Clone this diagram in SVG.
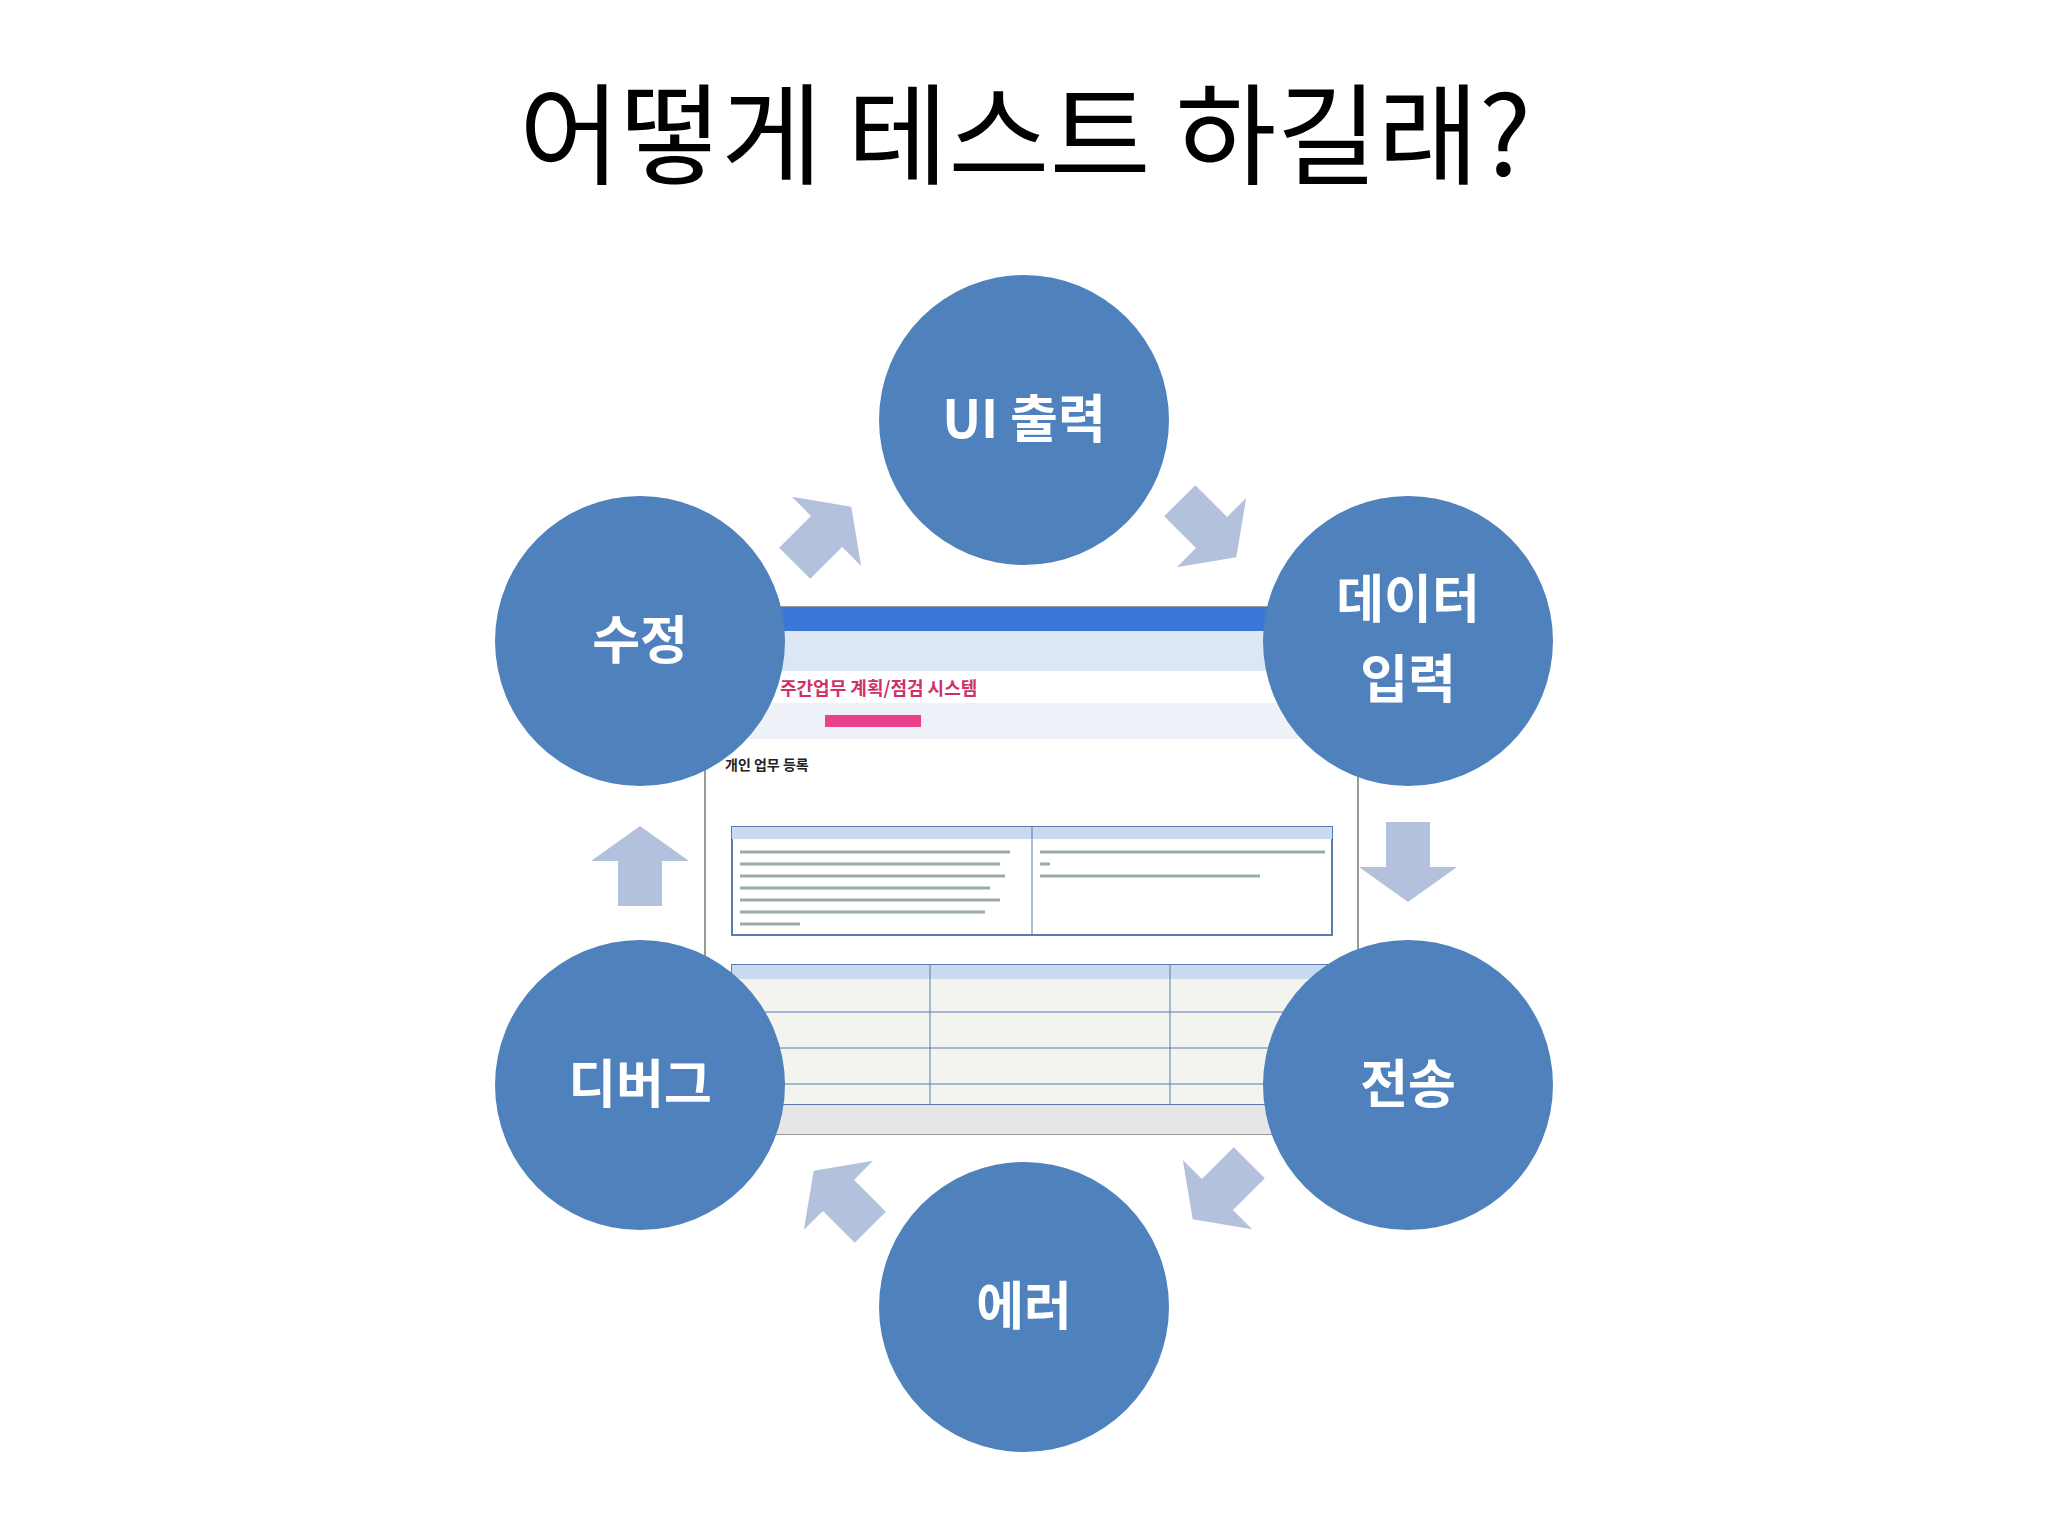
<svg xmlns="http://www.w3.org/2000/svg" width="2048" height="1536" viewBox="0 0 2048 1536">
<style>
.c{fill:#4f81bd}
.t{fill:#fff;font-family:"Noto Sans CJK KR",sans-serif;font-weight:bold;font-size:52px;text-anchor:middle}
.a{fill:#b3c1dd}
.s{font-family:"Noto Sans CJK KR",sans-serif}
</style>
<defs><path id="arr" d="M-40,-22 L5,-22 L5,-49 L40,0 L5,49 L5,22 L-40,22 Z"/></defs>
<rect width="2048" height="1536" fill="#fff"/>
<text x="1025" y="176" font-family="Noto Sans CJK KR,sans-serif" font-size="110" text-anchor="middle" fill="#000">어떻게 테스트 하길래?</text>
<g id="screenshot">
<rect x="705" y="607" width="653" height="527" fill="#fff" stroke="#999" stroke-width="2"/>
<rect x="705" y="607" width="653" height="24" fill="#3a78d8"/>
<rect x="705" y="631" width="653" height="40" fill="#dde6f3"/>
<text x="780" y="695" class="s" font-size="18" font-weight="bold" fill="#d0306a">주간업무 계획/점검 시스템</text>
<rect x="705" y="703" width="653" height="36" fill="#eef2f8"/>
<rect x="825" y="715" width="96" height="12" fill="#e8408a"/>
<text x="725" y="770" class="s" font-size="14" font-weight="bold" fill="#222">개인 업무 등록</text>
<rect x="732" y="827" width="600" height="108" fill="#fff" stroke="#5a7ab0" stroke-width="2"/>
<rect x="732" y="827" width="600" height="12" fill="#c8daf0"/>
<line x1="1032" y1="827" x2="1032" y2="935" stroke="#5a7ab0"/>
<g stroke="#9aa" stroke-width="3">
<line x1="740" y1="852" x2="1010" y2="852"/><line x1="740" y1="864" x2="1000" y2="864"/><line x1="740" y1="876" x2="1005" y2="876"/><line x1="740" y1="888" x2="990" y2="888"/><line x1="740" y1="900" x2="1000" y2="900"/><line x1="740" y1="912" x2="985" y2="912"/><line x1="740" y1="924" x2="800" y2="924"/>
<line x1="1040" y1="852" x2="1325" y2="852"/><line x1="1040" y1="864" x2="1050" y2="864"/><line x1="1040" y1="876" x2="1260" y2="876"/>
</g>
<rect x="732" y="965" width="600" height="140" fill="#f4f4ee" stroke="#5a7ab0" stroke-width="2"/>
<rect x="732" y="965" width="600" height="14" fill="#c8daf0"/>
<line x1="930" y1="965" x2="930" y2="1105" stroke="#5a7ab0"/>
<line x1="1170" y1="965" x2="1170" y2="1105" stroke="#5a7ab0"/>
<line x1="732" y1="1012" x2="1332" y2="1012" stroke="#5a7ab0"/>
<line x1="732" y1="1048" x2="1332" y2="1048" stroke="#5a7ab0"/>
<line x1="732" y1="1084" x2="1332" y2="1084" stroke="#5a7ab0"/>
<rect x="705" y="1105" width="653" height="29" fill="#e6e6e6"/>
</g>
<g id="connectors">
<use href="#arr" class="a" transform="translate(823,535) rotate(-45)"/>
<use href="#arr" class="a" transform="translate(1208,529) rotate(45)"/>
<use href="#arr" class="a" transform="translate(1408,862) rotate(90)"/>
<use href="#arr" class="a" transform="translate(1221,1191) rotate(135)"/>
<use href="#arr" class="a" transform="translate(842,1199) rotate(-135)"/>
<use href="#arr" class="a" transform="translate(640,866) rotate(-90)"/>
</g>
<g id="n1"><circle class="c" cx="1024" cy="420" r="145"/><text class="t" x="1024" y="438">UI 출력</text></g>
<g id="n2"><circle class="c" cx="1408" cy="641" r="145"/><text class="t" x="1408" y="618">데이터</text><text class="t" x="1408" y="698">입력</text></g>
<g id="n3"><circle class="c" cx="1408" cy="1085" r="145"/><text class="t" x="1408" y="1103">전송</text></g>
<g id="n4"><circle class="c" cx="1024" cy="1307" r="145"/><text class="t" x="1024" y="1325">에러</text></g>
<g id="n5"><circle class="c" cx="640" cy="1085" r="145"/><text class="t" x="640" y="1103">디버그</text></g>
<g id="n6"><circle class="c" cx="640" cy="641" r="145"/><text class="t" x="640" y="659">수정</text></g>
</svg>
